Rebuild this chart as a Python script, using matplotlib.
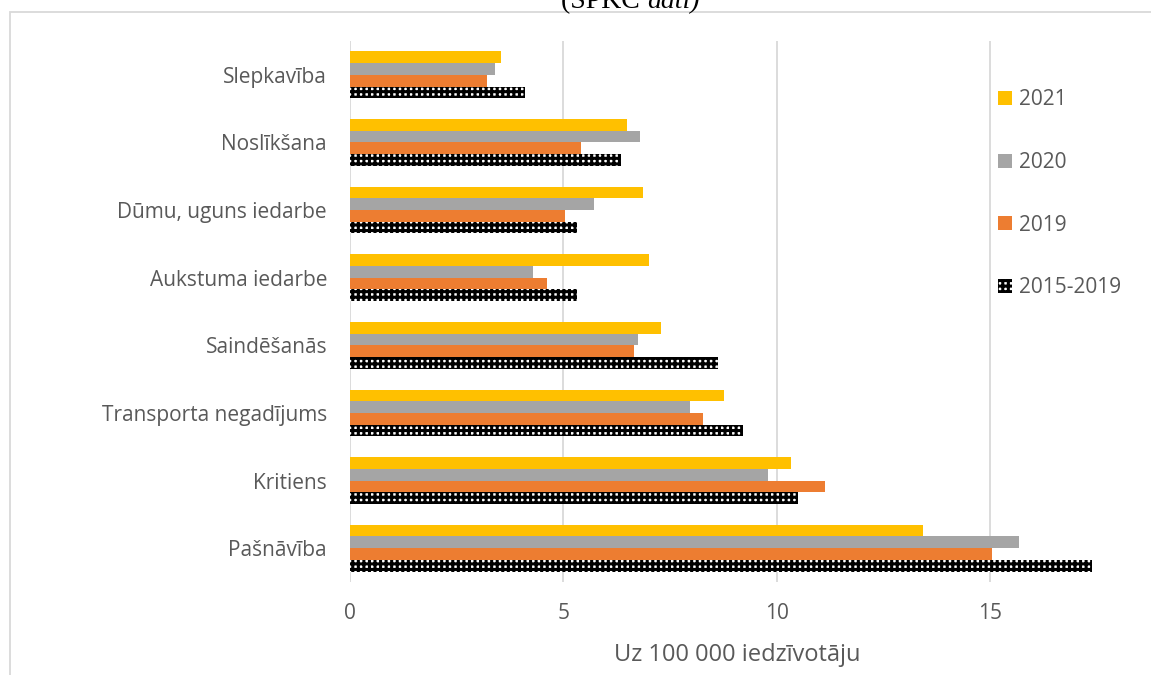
import numpy as np
import matplotlib.pyplot as plt
from matplotlib.patches import Patch, Rectangle

plt.rcParams['font.family'] = ['Open Sans', 'DejaVu Sans']
plt.rcParams['hatch.linewidth'] = 2.2

categories = ['Pašnāvība', 'Kritiens', 'Transporta negadījums', 'Saindēšanās',
              'Aukstuma iedarbe', 'Dūmu, uguns iedarbe', 'Noslīkšana', 'Slepkavība']

v2021 = [13.43, 10.35, 8.76, 7.29, 7.02, 6.87, 6.49, 3.54]
v2020 = [15.69, 9.79, 7.97, 6.76, 4.30, 5.72, 6.81, 3.40]
v2019 = [15.05, 11.13, 8.27, 6.65, 4.63, 5.04, 5.41, 3.22]
v2015_2019 = [17.40, 10.51, 9.21, 8.63, 5.32, 5.32, 6.35, 4.10]

series = ['2021', '2020', '2019', '2015-2019']
values = [v2021, v2020, v2019, v2015_2019]
colors = ['#FFC000', '#A5A5A5', '#ED7D31', 'white']
text_col = '#595959'

fig = plt.figure(figsize=(11.51, 6.75), dpi=100)
W, H = 1151, 675
ax = fig.add_axes([350 / W, 1 - 582 / H, 772 / W, 541 / H])

y = np.arange(len(categories))
h = 0.173
offsets = [1.5 * h, 0.5 * h, -0.5 * h, -1.5 * h]
for vals, col, off, name in zip(values, colors, offsets, series):
    if name == '2015-2019':
        ax.barh(y + off, vals, height=h, color='white', edgecolor='black',
                hatch='+++', linewidth=0, zorder=3)
    else:
        ax.barh(y + off, vals, height=h, color=col, linewidth=0, zorder=3)

ax.set_xlim(0, 18.1)
ax.set_ylim(-0.5, 7.5)
ax.set_xticks([0, 5, 10, 15])
ax.set_yticks(y)
ax.set_yticklabels(categories)
ax.grid(axis='x', color='#D9D9D9', linewidth=1.3, zorder=0)
for s in ax.spines.values():
    s.set_visible(False)
ax.tick_params(axis='both', length=0, labelsize=15, labelcolor=text_col)
ax.tick_params(axis='y', pad=16.5)
ax.tick_params(axis='x', pad=15)
ax.set_xlabel('Uz 100 000 iedzīvotāju', fontsize=17, color=text_col)
ax.xaxis.set_label_coords((737 - 350) / 772, -(655 - 582) / 541)
ax.xaxis.label.set_va('center')

handles = [Patch(facecolor=c, edgecolor='black' if n == '2015-2019' else c,
                 hatch='+++' if n == '2015-2019' else None, linewidth=0)
           for c, n in zip(colors, series)]
leg = ax.legend(handles, series, loc='upper left', frameon=False,
                bbox_to_anchor=(990 / W, 1 - 81 / H), bbox_transform=fig.transFigure,
                fontsize=15, handlelength=0.67, handleheight=0.67,
                handletextpad=0.3, labelspacing=2.0, borderaxespad=0)
for t in leg.get_texts():
    t.set_color(text_col)

# outer chart frame
fig.patches.append(Rectangle((10 / W, -0.1), 1.2, 1 - 12 / H + 0.1,
                             transform=fig.transFigure, fill=False,
                             edgecolor='#D9D9D9', linewidth=1.3))

fig.text(647 / W, 1 - 8 / H, '(SPKC ', family='Liberation Serif', fontsize=20,
         ha='right', va='baseline')
fig.text(647 / W, 1 - 8 / H, 'dati)', family='Liberation Serif', fontsize=20,
         style='italic', ha='left', va='baseline')

fig.savefig('out.png', dpi=100)
